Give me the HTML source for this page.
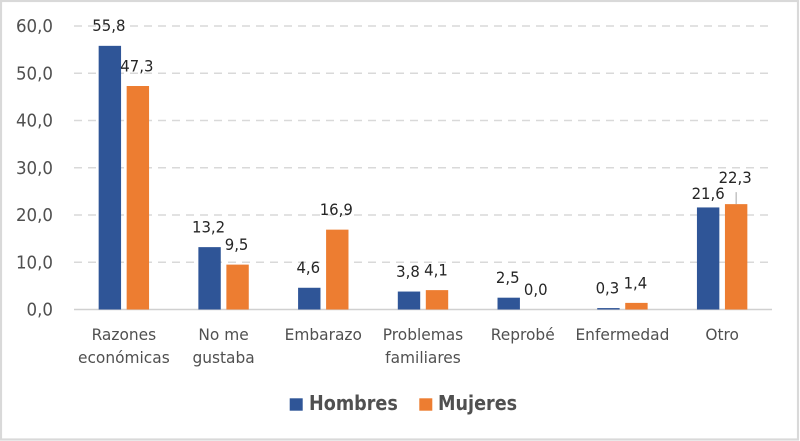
<!DOCTYPE html>
<html lang="es">
<head>
<meta charset="utf-8">
<title>Razones de abandono por sexo</title>
<style>
html,body{margin:0;padding:0;background:#fff;}
svg{display:block;font-family:"DejaVu Sans","Liberation Sans",sans-serif;}
</style>
</head>
<body>
<svg id="chart" width="800" height="441" viewBox="0 0 800 441" xmlns="http://www.w3.org/2000/svg"></svg>
<script>
const categories = [["Razones","económicas"],["No me","gustaba"],["Embarazo"],["Problemas","familiares"],["Reprobé"],["Enfermedad"],["Otro"]];
const hombres = [55.8,13.2,4.6,3.8,2.5,0.3,21.6];
const mujeres = [47.3,9.5,16.9,4.1,0.0,1.4,22.3];
const hombresLabels = ["55,8","13,2","4,6","3,8","2,5","0,3","21,6"];
const mujeresLabels = ["47,3","9,5","16,9","4,1","0,0","1,4","22,3"];
const yTicks = [0,10,20,30,40,50,60];
const yTickLabels = ["0,0","10,0","20,0","30,0","40,0","50,0","60,0"];
const seriesNames = ["Hombres","Mujeres"];
const leaderCategory = "Otro";

const NS = "http://www.w3.org/2000/svg";
const svg = document.getElementById("chart");
const plotLeft = 74, plotRight = 772, plotTop = 26, plotBottom = 309.5, yMax = 60;
const barW = 22.4, barGap = 5.6;
const blue = "#2f5597", orange = "#ed7d31";
function y(v){ return plotBottom - (v / yMax) * (plotBottom - plotTop); }
function xc(i){ return plotLeft + (i + 0.5) * (plotRight - plotLeft) / categories.length; }
function mk(tag, attrs, parent){
  const e = document.createElementNS(NS, tag);
  for (const k in attrs) e.setAttribute(k, attrs[k]);
  (parent || svg).appendChild(e);
  return e;
}
function txt(s, x0, y0, size, fill, anchor, squeeze, weight){
  const t = mk("text", {x:x0, y:y0, "font-size":size, fill:fill, "text-anchor":anchor || "middle"});
  if (weight) t.setAttribute("font-weight", weight);
  t.textContent = s;
  const w = t.getComputedTextLength();
  t.setAttribute("textLength", (w * squeeze).toFixed(2));
  t.setAttribute("lengthAdjust", "spacingAndGlyphs");
  return t;
}

const frame = mk("rect", {x:1, y:1, width:797, height:438.5, fill:"#fff", stroke:"#d9d9d9", "stroke-width":2.2});



yTicks.forEach((t, i) => {
  if (t !== 0) {
    const g = mk("line", {x1:plotLeft, x2:plotRight, y1:y(t), y2:y(t), stroke:"#d9d9d9", "stroke-width":1.5, "stroke-dasharray":"8 6"});
    
    
  }
  const l = txt(yTickLabels[i], 53, y(t) + 6, 17.5, "#505050", "end", 0.95);
  
  
});

const axis = mk("line", {x1:plotLeft, x2:plotRight, y1:plotBottom, y2:plotBottom, stroke:"#d0d0d0", "stroke-width":1.5});



categories.forEach((lines, i) => {
  const cx = xc(i);
  const bx1 = cx - barGap / 2 - barW, bx2 = cx + barGap / 2;
  const r1 = mk("rect", {x:bx1, y:y(hombres[i]), width:barW, height:plotBottom - y(hombres[i]), fill:blue});
  
  
  const r2 = mk("rect", {x:bx2, y:y(mujeres[i]), width:barW, height:plotBottom - y(mujeres[i]), fill:orange});
  
  

  lines.forEach((s, j) => {
    const c = txt(s, cx, 340 + j * 23, 15.8, "#505050", "middle", 0.975);
    
    
  });

  // Labels sit a fixed lift above their bars; the crowded last group is spread apart with a leader line.
  const hasLeader = lines[0] === leaderCategory;
  const liftH = hasLeader ? 8.4 : 14.6;
  const liftM = hasLeader ? 21 : 14.6;
  const a = txt(hombresLabels[i], bx1 + barW / 2 - (hasLeader ? 0 : 1), y(hombres[i]) - liftH, 16, "#262626", "middle", 0.93);
  
  
  const b = txt(mujeresLabels[i], bx2 + barW / 2 - 1, y(mujeres[i]) - liftM, 16, "#262626", "middle", 0.93);
  
  
  if (hasLeader) {
    const lx = bx2 + barW / 2;
    const lead = mk("line", {x1:lx, x2:lx, y1:y(mujeres[i]) - 12, y2:y(mujeres[i]), stroke:"#a6a6a6", "stroke-width":1});
    
    
  }
});

const sw1 = mk("rect", {x:289.7, y:398.3, width:13, height:12.4, fill:blue});


const lg1 = txt(seriesNames[0], 309, 410, 20, "#505050", "start", 0.88, "bold");


const sw2 = mk("rect", {x:419.3, y:398.3, width:13, height:12.4, fill:orange});


const lg2 = txt(seriesNames[1], 438, 410, 20, "#505050", "start", 0.88, "bold");


</script>
</body>
</html>
